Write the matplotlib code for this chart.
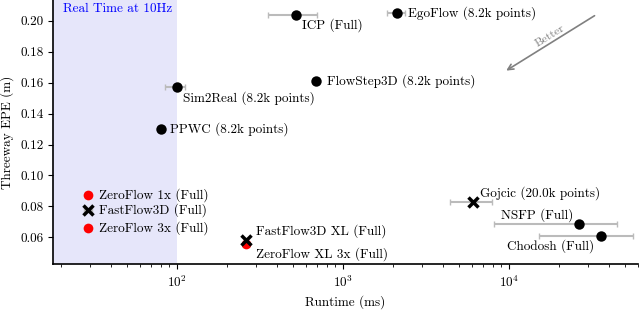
import numpy as np
import matplotlib
matplotlib.use('Agg')
import matplotlib.pyplot as plt
from matplotlib import rcParams

rcParams['font.family'] = 'cmr10'
rcParams['mathtext.fontset'] = 'cm'
rcParams['axes.formatter.use_mathtext'] = True
rcParams['axes.unicode_minus'] = False

# method, runtime (ms), runtime err low/high (ms), EPE (m)
names = ['ICP (Full)', 'EgoFlow (8.2k points)', 'FlowStep3D (8.2k points)',
         'Sim2Real (8.2k points)', 'PPWC (8.2k points)', 'ZeroFlow 1x (Full)',
         'FastFlow3D (Full)', 'ZeroFlow 3x (Full)', 'FastFlow3D XL (Full)',
         'ZeroFlow XL 3x (Full)', 'Gojcic (20.0k points)', 'NSFP (Full)',
         'Chodosh (Full)']
runtime = [526, 2124, 687, 100, 80, 29.3, 29.3, 29.3, 260, 260, 6100, 26400, 35800]
rt_lo = [353, 1835, 687, 85.5, 80, 28.3, 27.8, 28.3, 255, 255, 4416, 8150, 15200]
rt_hi = [697, 2370, 687, 111.7, 80, 30.3, 30.8, 30.3, 265, 265, 7870, 44900, 56100]
epe = [0.2039, 0.2048, 0.1613, 0.1574, 0.1303, 0.0871, 0.0776, 0.0660,
       0.0585, 0.0560, 0.0829, 0.0684, 0.0608]
kind = ['o', 'o', 'o', 'o', 'o', 'z', 'x', 'z', 'x', 'z', 'x', 'o', 'o']

# label offsets (points) and alignment
offsets = [(4, -7.5), (8, 0), (8, 0), (4.3, -8.4), (7, 0), (7.5, 0), (7.5, 0),
           (7.5, 0), (7.7, 6.2), (7.7, -7.7), (4.8, 6.5), (-4.3, 6.5), (-4.8, -7.2)]
aligns = ['left'] * 11 + ['right', 'right']

fig, ax = plt.subplots(figsize=(6.4, 3.26), dpi=100)
fig.subplots_adjust(left=0.083, right=0.997, bottom=0.189, top=1.0)

ax.axvspan(1, 100, color='#e6e6fa', zorder=0, lw=0)

# ZeroFlow XL 3x sits under FastFlow3D XL
order = [9] + [i for i in range(len(names)) if i != 9]
for i in order:
    x, y = runtime[i], epe[i]
    err = [[x - rt_lo[i]], [rt_hi[i] - x]]
    if kind[i] == 'z':
        ecol, col, mk, ms, mew = '#f4a0a0', 'red', 'o', 7, 0
    elif kind[i] == 'x':
        ecol, col, mk, ms, mew = '#bbbbbb', 'black', 'x', 7.5, 2.5
    else:
        ecol, col, mk, ms, mew = '#bbbbbb', 'black', 'o', 7.5, 0
    ax.errorbar([x], [y], xerr=err, fmt='none', ecolor=ecol, elinewidth=1.5,
                capsize=2, capthick=1, zorder=2)
    ax.plot([x], [y], marker=mk, color=col, markersize=ms, markeredgewidth=mew,
            linestyle='none', zorder=3)
    ax.annotate(names[i], (x, y), xytext=offsets[i], textcoords='offset points',
                ha=aligns[i], va='center', fontsize=9.5)

ax.set_xscale('log')
ax.set_xlim(18, 60000)
ax.set_ylim(0.0425, 0.2135)
ax.set_yticks([0.06, 0.08, 0.10, 0.12, 0.14, 0.16, 0.18, 0.20])
ax.yaxis.set_major_formatter(matplotlib.ticker.FormatStrFormatter('%.2f'))
ax.spines['top'].set_visible(False)
ax.spines['right'].set_visible(False)
ax.spines['left'].set_linewidth(1.2)
ax.spines['bottom'].set_linewidth(1.2)
ax.tick_params(labelsize=9.5)

ax.set_xlabel('Runtime (ms)', fontsize=9.5)
ax.set_ylabel('Threeway EPE (m)', fontsize=9.5)

ax.text(0.017, 0.966, 'Real Time at 10Hz', transform=ax.transAxes, color='blue',
        fontsize=9.5, ha='left', va='center')

ax.annotate('', xy=(9330, 0.1669), xytext=(33900, 0.2043),
            arrowprops=dict(arrowstyle='->', color='gray', lw=1.2))
ax.text(17800, 0.1905, 'Better', rotation=32, color='gray', fontsize=8.5,
        ha='center', va='center')

plt.savefig('out.png', dpi=100)
